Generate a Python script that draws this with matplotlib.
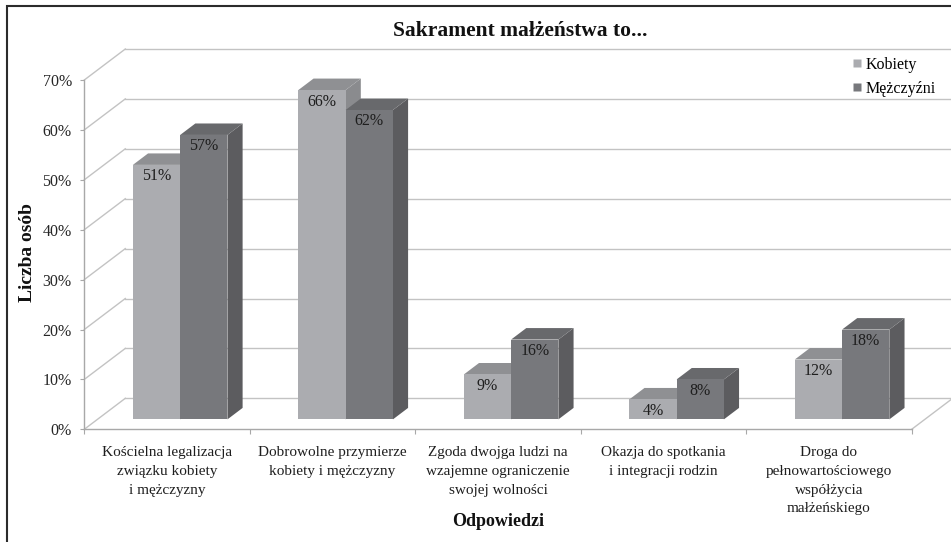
import matplotlib
matplotlib.use("Agg")
import matplotlib.pyplot as plt
from matplotlib.patches import Polygon, Rectangle
from matplotlib.lines import Line2D

# ---------------- data ----------------
categories = [
    "Kościelna legalizacja\nzwiązku kobiety\ni mężczyzny",
    "Dobrowolne przymierze\nkobiety i mężczyzny",
    "Zgoda dwojga ludzi na\nwzajemne ograniczenie\nswojej wolności",
    "Okazja do spotkania\ni integracji rodzin",
    "Droga do\npełnowartościowego\nwspółżycia\nmałżeńskiego",
]
series_names = ["Kobiety", "Mężczyźni"]
kobiety = [51, 66, 9, 4, 12]
mezczyzni = [57, 62, 16, 8, 18]
yticks = [0, 10, 20, 30, 40, 50, 60, 70]
ytick_labels = ["0%", "10%", "20%", "30%", "40%", "50%", "60%", "70%"]
title = "Sakrament małżeństwa to..."
ylabel = "Liczba osób"
xlabel = "Odpowiedzi"

# ---------------- style ----------------
plt.rcParams["font.family"] = ["Liberation Serif", "DejaVu Serif"]
W, H = 951, 542
fig = plt.figure(figsize=(W / 100, H / 100), dpi=100)
fig.patch.set_facecolor("white")

# axes box = front plane (0..5 categories, 0..70 %)
L, R, T, B = 84.3, 911.7, 80.0, 429.3
ax = fig.add_axes([L / W, 1 - B / H, (R - L) / W, (B - T) / H])
ax.set_xlim(0, len(categories))
ax.set_ylim(0, 70)
ax.patch.set_alpha(0)

# 3D depth offsets (data units)
DX = 41 / ((R - L) / len(categories))
DY = 31 / ((B - T) / 70)
d0, d1 = 0.32, 0.69
bw = 1 / 3.5
half_gap = (1 - 2 * bw) / 2

grid_c = "#c3c3c3"
axis_c = "#a8a8a8"

# side wall diagonals + back wall gridlines
n = len(categories)
for t in yticks:
    ax.plot([0, DX], [t, t + DY], color=grid_c, lw=1.0, clip_on=False, zorder=1)
    ax.plot([DX, n + DX + 0.5], [t + DY, t + DY], color=grid_c, lw=1.0, clip_on=False, zorder=1)
# floor right edge
ax.plot([n, n + DX], [0, DY], color=grid_c, lw=1.0, clip_on=False, zorder=1)

colors = {
    0: dict(front="#abacb0", top="#8f9093", side="#8a8b8e"),
    1: dict(front="#77787c", top="#68696c", side="#5c5c5f"),
}

for s, vals in enumerate([kobiety, mezczyzni]):
    col = colors[s]
    for c, v in enumerate(vals):
        x0 = c + half_gap + s * bw + d0 * DX
        y0 = d0 * DY
        ddx = (d1 - d0) * DX
        ddy = (d1 - d0) * DY
        front = [(x0, y0), (x0 + bw, y0), (x0 + bw, y0 + v), (x0, y0 + v)]
        top = [(x0, y0 + v), (x0 + bw, y0 + v), (x0 + bw + ddx, y0 + v + ddy), (x0 + ddx, y0 + v + ddy)]
        side = [(x0 + bw, y0), (x0 + bw + ddx, y0 + ddy), (x0 + bw + ddx, y0 + v + ddy), (x0 + bw, y0 + v)]
        z = 2 + s
        ax.add_patch(Polygon(side, closed=True, facecolor=col["side"], edgecolor="none", zorder=z, clip_on=False))
        ax.add_patch(Polygon(top, closed=True, facecolor=col["top"], edgecolor="none", zorder=z, clip_on=False))
        ax.add_patch(Polygon(front, closed=True, facecolor=col["front"], edgecolor="none", zorder=z, clip_on=False))
        ax.text(x0 + bw / 2, y0 + v - 2.3, f"{v}%", ha="center", va="center",
                fontsize=11.5, color="#1e1e1e", zorder=5)

# spines / ticks
for sp in ["top", "right"]:
    ax.spines[sp].set_visible(False)
for sp in ["left", "bottom"]:
    ax.spines[sp].set_color(axis_c)
    ax.spines[sp].set_linewidth(1.0)
    ax.spines[sp].set_zorder(1)

ax.set_yticks(yticks)
ax.set_yticklabels(ytick_labels, fontsize=11.5, color="#262626")
ax.tick_params(axis="y", length=3, color=axis_c, pad=6)

ax.set_xticks(range(n + 1))
ax.set_xticklabels([])
ax.tick_params(axis="x", which="major", length=3.5, color=axis_c)
ax.set_xticks([c + 0.5 for c in range(n)], minor=True)
ax.set_xticklabels(categories, minor=True, fontsize=11, color="#1e1e1e", linespacing=1.58)
ax.tick_params(axis="x", which="minor", length=0, pad=12)

ax.set_ylabel(ylabel, fontsize=14, fontweight="bold", color="#111111")
ax.yaxis.set_label_coords((28 - L) / (R - L), 0.505)
ax.yaxis.label.set_va("center")
ax.set_xlabel(xlabel, fontsize=13, fontweight="bold", color="#111111")
ax.xaxis.set_label_coords(0.5, -(522 - B) / (B - T))
ax.xaxis.label.set_va("center")

# title
fig.text(520 / W, 1 - 31 / H, title, ha="center", va="center", fontsize=15.5,
         fontweight="bold", color="#111111")

# legend
handles = [
    Line2D([], [], marker="s", linestyle="none", markersize=5.5, markerfacecolor=colors[0]["front"],
           markeredgecolor="none"),
    Line2D([], [], marker="s", linestyle="none", markersize=5.5, markerfacecolor=colors[1]["front"],
           markeredgecolor="none"),
]
fig.legend(handles, series_names, loc="upper left", bbox_to_anchor=(852 / W, 1 - 57 / H),
           frameon=False, fontsize=11.5, handlelength=0.6, handletextpad=0.25,
           labelspacing=0.5, borderaxespad=0, borderpad=0)

# outer frame
fig.add_artist(Rectangle((7 / W, -0.01), 1.0, 1 - 5.5 / H + 0.01, transform=fig.transFigure,
                         facecolor="none", edgecolor="#2b2b2b", lw=1.5, zorder=10))

fig.savefig("out.png", dpi=100, facecolor="white")
